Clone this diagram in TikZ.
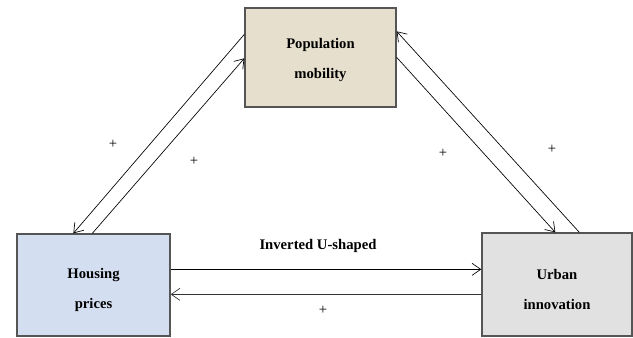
\documentclass[tikz,border=0pt]{standalone}
\usepackage{fontspec}
\setmainfont{Liberation Serif}
\usetikzlibrary{arrows.meta,calc}
\definecolor{popfill}{RGB}{230,223,205}
\definecolor{hpfill}{RGB}{211,223,241}
\definecolor{uifill}{RGB}{225,225,225}
\definecolor{boxline}{RGB}{85,85,85}
\tikzset{
  box/.style={draw=boxline,line width=1pt,inner sep=0pt},
  boxtext/.style={align=center,inner sep=0pt,
    font=\bfseries\fontsize{11}{22.5}\selectfont},
  arr/.style={line width=0.5pt,-{Straight Barb[length=6.5pt,width=9pt,line width=0.5pt]}},
  lbl/.style={inner sep=0pt,font=\fontsize{11}{13}\selectfont},
}
\begin{document}
\begin{tikzpicture}[x=0.75pt,y=-0.75pt]
\useasboundingbox (0,0) rectangle (633,337);
\node[box,fill=popfill,minimum width=113.25pt,minimum height=74.25pt] (pop) at (320.5,57.5) {};
\node[box,fill=hpfill,minimum width=114.75pt,minimum height=76.5pt] (hp) at (93.5,285) {};
\node[box,fill=uifill,minimum width=112.5pt,minimum height=77.25pt] (ui) at (557,284.5) {};
\node[boxtext] (popt) at (320.5,60) {Population\\mobility};
\node[boxtext] (hpt) at (93.5,290) {Housing\\prices};
\node[boxtext] (uit) at (557,289) {Urban\\innovation};
% left pair
\draw[arr] ($(pop.north west)+(0,27)$) -- ($(hp.north west)+(57,0)$);
\draw[arr] ($(hp.north west)+(76,0)$) -- ($(pop.north west)+(0,51)$);
% right pair
\draw[arr] ($(ui.north west)+(98,0)$) -- ($(pop.north east)+(0,24)$);
\draw[arr] ($(pop.north east)+(0,50)$) -- ($(ui.north west)+(74,0)$);
% horizontal
\coordinate (h1) at ($(hp.north east)+(0,36)$);
\coordinate (h2) at ($(hp.north east)+(0,61)$);
\draw[arr] (h1) -- (ui.west |- h1);
\draw[arr,draw=black!80,line width=0.8pt] (ui.west |- h2) -- (h2);
% labels
\node[lbl,font=\bfseries\fontsize{11}{13}\selectfont] (inv) at (318,246) {Inverted U-shaped};
\node[lbl] (p1) at (113,144) {+};
\node[lbl] (p2) at (194,161) {+};
\node[lbl] (p3) at (443,153) {+};
\node[lbl] (p4) at (552,149) {+};
\node[lbl] (p5) at (323,310) {+};
\end{tikzpicture}
\end{document}
